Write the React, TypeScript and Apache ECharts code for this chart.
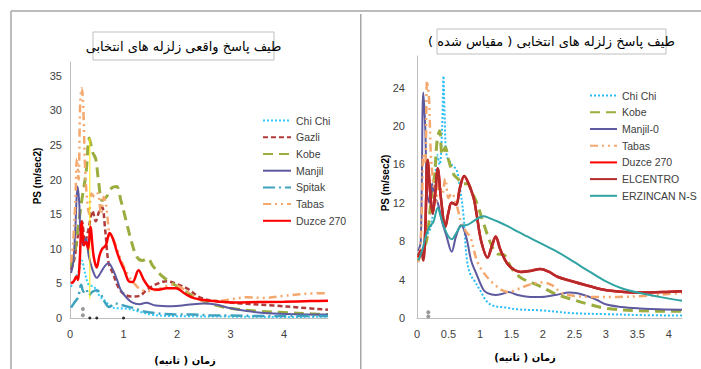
import React, { useEffect, useRef } from "react";
import * as echarts from "echarts";

// ---------- LEFT CHART DATA (actual spectra) ----------
const leftNames = ["Chi Chi", "Gazli", "Kobe", "Manjil", "Spitak", "Tabas", "Duzce 270"];
const leftYTicks = [0, 5, 10, 15, 20, 25, 30, 35];
const leftXTicks = [0, 1, 2, 3, 4];

const chiChiL = [[0.02,4.5],[0.08,5.5],[0.15,6.5],[0.22,8.3],[0.28,6.5],[0.35,4.8],[0.45,4.5],[0.55,3.2],[0.65,2.5],[0.8,1.5],[0.95,1.4],[1.1,1.3],[1.3,0.9],[1.5,0.5],[1.8,0.3],[2.2,0.25],[3,0.2],[4,0.15],[4.82,0.2]];
const gazliL = [[0.02,7],[0.08,8.5],[0.15,12],[0.22,14],[0.28,11],[0.35,13],[0.42,15.5],[0.48,14],[0.55,15.5],[0.6,16],[0.66,12.5],[0.72,8],[0.8,6.5],[0.9,4.5],[1.0,3.5],[1.15,3.1],[1.3,3.2],[1.45,4.2],[1.65,5.0],[1.8,5.3],[2.0,4.9],[2.2,4.2],[2.45,2.9],[2.8,2.4],[3.2,2.1],[3.8,1.8],[4.3,1.5],[4.82,1.2]];
const kobeL = [[0.02,7.5],[0.08,9],[0.15,13],[0.22,17],[0.3,21],[0.36,26],[0.42,24],[0.48,23],[0.53,20],[0.6,17],[0.68,17.5],[0.78,18.8],[0.87,19],[0.95,17],[1.05,14],[1.15,11],[1.25,8.8],[1.35,8.3],[1.45,8.6],[1.55,7.5],[1.7,6.2],[1.85,5.3],[2.0,4.6],[2.2,3.6],[2.45,2.6],[2.7,1.9],[3.0,1.4],[3.5,1.0],[4.0,0.8],[4.5,0.6],[4.82,0.5]];
const manjilL = [[0.02,6.5],[0.06,8],[0.1,13],[0.14,19],[0.17,17],[0.2,12],[0.25,10.5],[0.3,11.5],[0.35,9],[0.42,7],[0.5,5.8],[0.57,6.5],[0.65,7.5],[0.72,7.9],[0.8,7],[0.88,5.5],[0.95,4],[1.05,3],[1.15,2.3],[1.3,2.0],[1.42,2.2],[1.6,1.8],[1.9,1.7],[2.2,1.9],[2.5,2.1],[2.75,1.9],[3.0,1.4],[3.3,1.0],[3.7,0.7],[4.2,0.55],[4.82,0.5]];
const spitakL = [[0.02,1.5],[0.08,2.2],[0.15,3],[0.21,4.8],[0.25,3.8],[0.3,4.2],[0.35,3.3],[0.42,3.8],[0.5,4.0],[0.57,3.5],[0.65,2.3],[0.73,1.6],[0.85,2.1],[0.95,1.9],[1.1,1.6],[1.2,1.4],[1.35,1.0],[1.5,0.8],[1.7,0.6],[2.0,0.5],[2.3,0.5],[2.6,0.4],[3.0,0.35],[3.5,0.3],[4.0,0.3],[4.82,0.3]];
const tabasL = [[0.02,8],[0.06,11],[0.1,17],[0.13,23],[0.16,20],[0.19,31],[0.22,33.2],[0.25,30],[0.28,22],[0.32,17],[0.36,15],[0.4,18],[0.46,17.5],[0.52,18],[0.58,15],[0.63,17.5],[0.68,16],[0.74,12],[0.8,11.5],[0.9,9.5],[1.0,7.5],[1.1,6],[1.2,5],[1.35,4],[1.5,3.9],[1.7,4.3],[1.9,4.8],[2.05,4.5],[2.25,3.5],[2.5,2.5],[2.8,2.5],[3.0,2.7],[3.3,3.0],[3.6,2.9],[4.0,3.2],[4.4,3.5],[4.82,3.6]];
const duzceL = [[0.02,5],[0.07,5.3],[0.12,6],[0.15,5.5],[0.18,8],[0.22,13.9],[0.26,10.5],[0.3,11],[0.34,10],[0.38,13.2],[0.44,9],[0.5,7.3],[0.55,9],[0.6,10],[0.67,10.5],[0.74,12.3],[0.8,11.5],[0.88,9.5],[0.95,8],[1.02,6.8],[1.1,5.3],[1.17,5.2],[1.28,6.9],[1.38,5.5],[1.5,4.3],[1.65,4.1],[1.8,4.3],[1.98,4.3],[2.15,3.5],[2.3,2.9],[2.5,2.6],[2.75,2.4],[3.05,2.25],[3.5,2.3],[4.0,2.35],[4.5,2.45],[4.82,2.5]];
const yellowL = [[0.37,26],[0.37,2.8]];
const grayDotsL = [[0.24,1.3],[0.24,0.4]];
const blackDotsL = [[0.37,0],[0.5,0],[1.0,0]];

// ---------- RIGHT CHART DATA (scaled spectra) ----------
const rightNames = ["Chi Chi", "Kobe", "Manjil-0", "Tabas", "Duzce 270", "ELCENTRO", "ERZINCAN N-S"];
const rightYTicks = [0, 4, 8, 12, 16, 20, 24];
const rightXTicks = [0, 0.5, 1, 1.5, 2, 2.5, 3, 3.5, 4];

const chiChiR = [[0.02,6],[0.08,7],[0.15,8.5],[0.22,9.5],[0.28,13],[0.32,17],[0.36,16],[0.4,20],[0.42,25.2],[0.44,21],[0.47,17],[0.55,16],[0.63,15.4],[0.68,13.7],[0.74,10.6],[0.79,6.2],[0.85,4.5],[0.92,3.8],[1.0,2.9],[1.1,1.8],[1.2,1.3],[1.4,1.1],[1.6,0.9],[1.96,0.8],[2.48,0.5],[3.0,0.4],[3.6,0.3],[4.21,0.25]];
const kobeR = [[0.02,6],[0.08,7],[0.15,8],[0.22,12],[0.28,15],[0.32,18.5],[0.36,19.5],[0.4,17],[0.45,17.8],[0.5,16.5],[0.58,15],[0.65,14.5],[0.72,14],[0.8,14],[0.88,13],[0.95,12],[1.05,10],[1.17,7.8],[1.27,6.7],[1.38,6.6],[1.5,5.2],[1.65,4.2],[1.96,3.3],[2.2,2.5],[2.48,1.9],[2.75,1.4],[3.01,1.0],[3.54,0.75],[4.21,0.7]];
const manjilR = [[0.02,7],[0.06,8],[0.1,23.5],[0.13,20],[0.16,13],[0.2,12],[0.24,14],[0.28,12.5],[0.33,12],[0.4,10],[0.47,8.5],[0.55,6.9],[0.62,8.5],[0.7,9.7],[0.78,8.5],[0.86,6],[0.95,4.5],[1.05,3],[1.12,2.6],[1.25,2.4],[1.35,2.5],[1.45,2.7],[1.6,2.4],[1.8,2.2],[1.96,2.2],[2.2,2.4],[2.43,2.65],[2.65,2.4],[2.85,1.9],[3.01,1.4],[3.25,1.15],[3.54,1.0],[3.85,0.9],[4.21,0.85]];
const tabasR = [[0.02,5.8],[0.05,7],[0.08,12],[0.1,17],[0.13,16],[0.16,24.7],[0.19,23],[0.22,17],[0.26,14],[0.3,12],[0.35,14],[0.4,13],[0.45,14.5],[0.5,12.5],[0.55,13],[0.62,12],[0.7,10],[0.78,9],[0.85,8.4],[0.95,6],[1.05,4.8],[1.15,4],[1.25,3.4],[1.35,2.9],[1.45,2.7],[1.6,3.0],[1.8,3.5],[2.0,3.7],[2.15,3.4],[2.3,2.6],[2.5,2.3],[2.8,2.2],[3.2,2.2],[3.6,2.3],[4.0,2.5],[4.21,2.6]];
const duzceR = [[0.02,6.3],[0.06,7],[0.1,6.5],[0.13,9],[0.17,16.4],[0.21,13],[0.25,10.9],[0.29,13],[0.33,15.5],[0.38,12.5],[0.45,9.5],[0.5,11],[0.55,12],[0.62,11.8],[0.68,13.5],[0.75,14.8],[0.82,14],[0.9,12.5],[0.95,10.7],[1.02,8],[1.12,6.3],[1.19,7.5],[1.25,8.5],[1.32,7.2],[1.43,5.7],[1.55,5],[1.65,4.8],[1.8,4.9],[1.96,5.1],[2.1,4.8],[2.23,4.3],[2.48,3.8],[2.75,3.3],[3.01,2.9],[3.54,2.65],[3.9,2.7],[4.21,2.8]];
const elcentroR = [[0.02,6.5],[0.06,7],[0.1,6],[0.13,9],[0.17,16.5],[0.21,13],[0.25,10.9],[0.29,13],[0.33,15.6],[0.38,12.5],[0.45,9.5],[0.5,11],[0.55,12],[0.62,11.8],[0.68,13.5],[0.75,14.8],[0.82,14],[0.9,12.5],[0.95,10.7],[1.02,8],[1.12,6.3],[1.19,7.5],[1.25,8.5],[1.32,7.2],[1.43,5.7],[1.55,5],[1.65,4.8],[1.8,4.9],[1.96,5.1],[2.1,4.8],[2.23,4.3],[2.48,3.8],[2.75,3.3],[3.01,2.9],[3.54,2.65],[3.9,2.7],[4.21,2.8]];
const erzincanR = [[0.02,6],[0.08,7],[0.14,8.5],[0.2,9.5],[0.26,10],[0.33,11.5],[0.38,10.5],[0.44,9.3],[0.5,8.5],[0.55,8.2],[0.62,8.8],[0.7,9.6],[0.8,9.7],[0.9,10.1],[1.0,10.5],[1.06,10.6],[1.15,10.4],[1.3,10],[1.43,9.6],[1.6,9.0],[1.75,8.5],[1.96,7.8],[2.23,6.9],[2.48,5.9],[2.75,4.8],[3.01,3.8],[3.25,3.1],[3.54,2.6],[3.85,2.2],[4.21,1.8]];
const grayDotsR = [[0.18,0.6],[0.18,0.15]];

const leftTitle = "طیف پاسخ واقعی زلزله های انتخابی";
const rightTitle = "طیف پاسخ زلزله های انتخابی ( مقیاس شده )\u200F";
const xName = "زمان ( ثانیه)\u200F";
const yName = "PS (m/sec2)";

const FRAME = "#a6a6a6";
const AXIS = "#bfbfbf";
const LABEL = "#404040";
const PERSIAN = "'DejaVu Sans', sans-serif";
const LATIN = "'Liberation Sans', Arial, sans-serif";

function lineSeries(name: string, data: number[][], color: string, width: number, type: any) {
  return {
    name,
    type: "line",
    data,
    smooth: 0.35,
    symbol: "none",
    lineStyle: { color, width, type },
    itemStyle: { color },
  };
}

function dots(data: number[][], color: string, size: number) {
  return {
    type: "scatter",
    data,
    symbolSize: size,
    itemStyle: { color },
    z: 5,
  };
}

function axisLabelFmt(ticks: number[]) {
  return (v: number) => (ticks.some((t) => Math.abs(t - v) < 1e-6) ? String(v) : "");
}

function frameLine(x1: number, y1: number, x2: number, y2: number) {
  return { type: "line", shape: { x1, y1, x2, y2 }, style: { stroke: FRAME, lineWidth: 1.5 }, silent: true };
}

function titleBox(x: number, y: number, w: number, h: number, text: string, fs: number) {
  return [
    { type: "rect", shape: { x, y, width: w, height: h }, style: { fill: "#fff", stroke: AXIS, lineWidth: 1 }, z: 10 },
    {
      type: "text",
      x: x + w / 2,
      y: y + h / 2,
      z: 11,
      style: { text, fill: "#000", font: `${fs}px ${PERSIAN}`, align: "center", verticalAlign: "middle" },
    },
  ];
}

function axisNames(yx: number, yy: number, xx: number, xy: number) {
  return [
    {
      type: "text",
      x: yx,
      y: yy,
      rotation: Math.PI / 2,
      style: { text: yName, fill: "#000", font: `bold 10px ${LATIN}`, align: "center", verticalAlign: "middle" },
    },
    {
      type: "text",
      x: xx,
      y: xy,
      style: { text: xName, fill: "#000", font: `bold 10px ${PERSIAN}`, align: "center", verticalAlign: "middle" },
    },
  ];
}

const legendBase = {
  orient: "vertical",
  itemHeight: 14,
  itemGap: 5.5,
  itemStyle: { opacity: 0 },
  textStyle: { color: LABEL, fontSize: 10.5, fontFamily: LATIN },
};

const leftOption = {
  animation: false,
  grid: { left: 70, top: 62, right: 32, bottom: 51 },
  xAxis: {
    type: "value", min: 0, max: 4.82, interval: 1,
    axisLine: { lineStyle: { color: AXIS, width: 1 } },
    axisTick: { show: false }, splitLine: { show: false },
    axisLabel: { formatter: axisLabelFmt(leftXTicks), color: LABEL, fontSize: 11, fontFamily: LATIN, margin: 10 },
  },
  yAxis: {
    type: "value", min: 0, max: 37, interval: 5,
    axisLine: { show: true, lineStyle: { color: AXIS, width: 1 } },
    axisTick: { show: false }, splitLine: { show: false },
    axisLabel: { formatter: axisLabelFmt(leftYTicks), color: LABEL, fontSize: 11, fontFamily: LATIN, margin: 8 },
  },
  legend: { ...legendBase, left: 257, top: 110, itemWidth: 28, data: leftNames },
  graphic: [
    frameLine(11, 11, 360, 11),
    frameLine(11, 11, 11, 369),
    ...titleBox(93, 32, 181, 28, leftTitle, 13),
    ...axisNames(37, 176, 185, 360),
  ],
  series: [
    lineSeries("Chi Chi", chiChiL, "#33CCFF", 2, [2, 2]),
    lineSeries("Gazli", gazliL, "#B03A3A", 2.5, [5, 3]),
    lineSeries("Kobe", kobeL, "#9AAD3E", 3, [10, 6]),
    lineSeries("Manjil", manjilL, "#5E5AA0", 2, "solid"),
    lineSeries("Spitak", spitakL, "#3FA3BF", 2.5, [12, 4, 2, 4]),
    lineSeries("Tabas", tabasL, "#F4A86E", 2.5, [8, 4, 2, 4, 2, 4]),
    { ...lineSeries("yellow", yellowL, "#FFEE00", 1, "solid"), smooth: false },
    lineSeries("Duzce 270", duzceL, "#FF0000", 2.5, "solid"),
    dots(grayDotsL, "#808080", 4),
    dots(blackDotsL, "#000000", 3),
  ],
};

const rightOption = {
  animation: false,
  grid: { left: 57, top: 56, right: 19, bottom: 51 },
  xAxis: {
    type: "value", min: 0, max: 4.21, interval: 0.5,
    axisLine: { lineStyle: { color: AXIS, width: 1 } },
    axisTick: { show: false }, splitLine: { show: false },
    axisLabel: { formatter: axisLabelFmt(rightXTicks), color: LABEL, fontSize: 11, fontFamily: LATIN, margin: 10 },
  },
  yAxis: {
    type: "value", min: 0, max: 27.3, interval: 4,
    axisLine: { show: true, lineStyle: { color: AXIS, width: 1 } },
    axisTick: { show: false }, splitLine: { show: false },
    axisLabel: { formatter: axisLabelFmt(rightYTicks), color: LABEL, fontSize: 11, fontFamily: LATIN, margin: 12 },
  },
  legend: { ...legendBase, left: 224, top: 85, itemWidth: 27, data: rightNames },
  graphic: [
    frameLine(0, 11, 341, 11),
    frameLine(0.75, 14, 0.75, 369),
    ...titleBox(77, 29, 229, 25, rightTitle, 13),
    ...axisNames(25, 183, 165, 357),
  ],
  series: [
    lineSeries("Chi Chi", chiChiR, "#29BDF5", 2, [2, 2]),
    lineSeries("Kobe", kobeR, "#9AAD3E", 3, [10, 6]),
    lineSeries("Manjil-0", manjilR, "#5E5AA0", 2, "solid"),
    lineSeries("Tabas", tabasR, "#F4A86E", 2.5, [8, 4, 2, 4, 2, 4]),
    lineSeries("Duzce 270", duzceR, "#FF0000", 2.5, "solid"),
    lineSeries("ELCENTRO", elcentroR, "#B52B2B", 2.5, "solid"),
    lineSeries("ERZINCAN N-S", erzincanR, "#31A3A3", 2, "solid"),
    dots(grayDotsR, "#808080", 4),
  ],
};

function Chart({ option, left, width }: { option: any; left: number; width: number }) {
  const ref = useRef<HTMLDivElement>(null);
  useEffect(() => {
    if (!ref.current) return;
    const chart = echarts.init(ref.current, undefined, { renderer: "svg" });
    chart.setOption(option);
    return () => chart.dispose();
  }, [option]);
  return <div ref={ref} style={{ position: "absolute", left, top: 0, width, height: 369 }} />;
}

export default function App() {
  return (
    <div style={{ position: "fixed", left: 0, top: 0, width: 701, height: 369, background: "#fff", overflow: "hidden" }}>
      <Chart option={leftOption} left={0} width={360} />
      <Chart option={rightOption} left={360} width={341} />
    </div>
  );
}
